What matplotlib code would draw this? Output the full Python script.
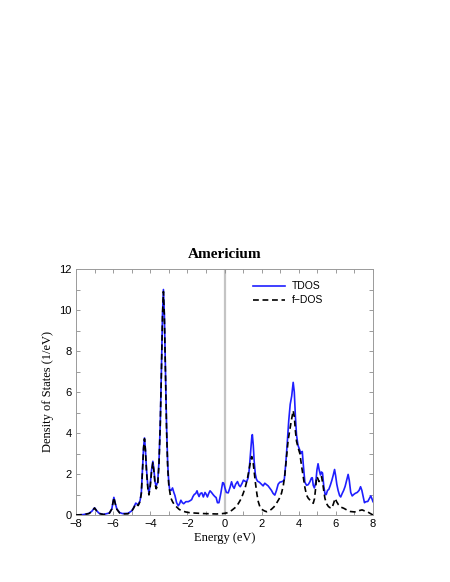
import numpy as np
import matplotlib
matplotlib.use("Agg")
import matplotlib.pyplot as plt
from matplotlib.ticker import MultipleLocator

# Energy grid and total DOS
tdos_energy = [
    -8.0, -7.6, -7.3, -7.15, -7.0, -6.88, -6.75, -6.5, -6.2, -6.07, -5.96, -5.88,
    -5.8, -5.65, -5.5, -5.2, -5.0, -4.9, -4.78, -4.65, -4.55, -4.48, -4.42, -4.36,
    -4.31, -4.26, -4.2, -4.13, -4.07, -4.0, -3.93, -3.86, -3.8, -3.74, -3.68, -3.6,
    -3.53, -3.46, -3.4, -3.34, -3.29, -3.24, -3.18, -3.12, -3.06, -3.0, -2.95, -2.87,
    -2.8, -2.73, -2.67, -2.58, -2.49, -2.42, -2.35, -2.27, -2.2, -2.08, -1.95, -1.85,
    -1.77, -1.7, -1.63, -1.55, -1.48, -1.42, -1.37, -1.3, -1.22, -1.14, -1.05, -0.98,
    -0.92, -0.85, -0.78, -0.7, -0.6, -0.52, -0.45, -0.38, -0.3, -0.2, -0.1, -0.04,
    0.03, 0.1, 0.2, 0.3, 0.38, 0.45, 0.52, 0.6, 0.7, 0.78, 0.85, 0.95,
    1.02, 1.1, 1.19, 1.27, 1.33, 1.4, 1.47, 1.5, 1.55, 1.6, 1.66, 1.72,
    1.78, 1.88, 1.99, 2.08, 2.17, 2.27, 2.35, 2.45, 2.53, 2.62, 2.71, 2.8,
    2.89, 2.98, 3.07, 3.15, 3.22, 3.3, 3.38, 3.46, 3.54, 3.62, 3.7, 3.76,
    3.82, 3.88, 3.96, 4.04, 4.12, 4.19, 4.25, 4.33, 4.42, 4.51, 4.6, 4.68,
    4.73, 4.78, 4.84, 4.92, 4.98, 5.04, 5.1, 5.17, 5.22, 5.28, 5.35, 5.42,
    5.48, 5.55, 5.62, 5.7, 5.78, 5.86, 5.93, 5.99, 6.05, 6.12, 6.2, 6.26,
    6.34, 6.42, 6.5, 6.58, 6.66, 6.72, 6.8, 6.88, 6.96, 7.05, 7.15, 7.25,
    7.33, 7.4, 7.47, 7.54, 7.62, 7.72, 7.8, 7.88, 7.94, 8.0,
]
tdos_values = [
    0.0, 0.02, 0.08, 0.18, 0.35, 0.2, 0.08, 0.03, 0.1, 0.3, 0.86, 0.55,
    0.3, 0.12, 0.07, 0.08, 0.2, 0.35, 0.58, 0.5, 0.7, 1.1, 2.2, 3.3,
    3.76, 3.2, 2.2, 1.4, 1.07, 1.5, 2.2, 2.62, 2.2, 1.6, 1.42, 1.6,
    2.6, 4.5, 7.0, 9.8, 11.0, 9.8, 7.0, 4.3, 2.5, 1.55, 1.22, 1.2,
    1.32, 1.1, 0.95, 0.6, 0.45, 0.55, 0.72, 0.6, 0.55, 0.65, 0.65, 0.7,
    0.75, 0.9, 1.0, 1.05, 1.18, 1.0, 0.9, 1.05, 1.08, 0.88, 1.1, 1.0,
    0.88, 1.05, 1.18, 1.1, 0.98, 0.9, 0.85, 0.6, 0.6, 1.05, 1.58, 1.55,
    1.3, 1.1, 1.08, 1.35, 1.62, 1.4, 1.3, 1.5, 1.63, 1.45, 1.38, 1.55,
    1.7, 1.65, 1.62, 1.8, 2.2, 3.0, 3.8, 3.92, 3.4, 2.6, 2.0, 1.75,
    1.65, 1.6, 1.5, 1.42, 1.55, 1.48, 1.42, 1.3, 1.2, 1.05, 0.97, 1.2,
    1.5, 1.6, 1.62, 1.65, 1.72, 2.5, 3.5, 4.6, 5.4, 5.8, 6.47, 6.0,
    4.8, 3.9, 3.4, 3.2, 3.0, 3.1, 2.4, 1.6, 1.45, 1.48, 1.62, 1.8,
    1.82, 1.45, 1.32, 1.6, 2.2, 2.5, 2.2, 1.95, 2.1, 2.05, 1.4, 1.0,
    1.0, 1.2, 1.25, 1.45, 1.68, 1.95, 2.22, 1.9, 1.5, 1.2, 0.95, 0.88,
    1.05, 1.2, 1.4, 1.7, 1.98, 1.7, 1.1, 0.93, 1.0, 1.06, 1.1, 1.2,
    1.38, 1.2, 0.9, 0.6, 0.65, 0.66, 0.8, 0.93, 0.8, 0.65,
]

# f-projected DOS
fdos_energy = [
    -8.0, -7.6, -7.3, -7.15, -7.0, -6.88, -6.75, -6.5, -6.2, -6.07, -5.96, -5.88,
    -5.8, -5.65, -5.5, -5.2, -5.0, -4.9, -4.78, -4.65, -4.55, -4.48, -4.42, -4.36,
    -4.31, -4.26, -4.2, -4.13, -4.07, -4.0, -3.93, -3.86, -3.8, -3.74, -3.68, -3.6,
    -3.53, -3.46, -3.4, -3.34, -3.29, -3.24, -3.18, -3.12, -3.06, -3.0, -2.9, -2.8,
    -2.7, -2.59, -2.45, -2.32, -2.1, -1.87, -1.5, -1.14, -0.8, -0.42, -0.1, 0.12,
    0.38, 0.6, 0.74, 0.9, 1.01, 1.12, 1.24, 1.34, 1.42, 1.47, 1.55, 1.61,
    1.67, 1.75, 1.82, 1.9, 2.0, 2.15, 2.27, 2.4, 2.53, 2.67, 2.8, 2.95,
    3.07, 3.17, 3.25, 3.34, 3.43, 3.52, 3.6, 3.7, 3.76, 3.82, 3.88, 3.96,
    4.06, 4.15, 4.24, 4.33, 4.42, 4.51, 4.6, 4.7, 4.78, 4.85, 4.92, 4.96,
    5.02, 5.09, 5.16, 5.23, 5.3, 5.36, 5.41, 5.5, 5.6, 5.7, 5.78, 5.87,
    5.96, 6.04, 6.14, 6.28, 6.42, 6.6, 6.78, 7.0, 7.14, 7.28, 7.41, 7.55,
    7.68, 7.84, 8.0,
]
fdos_values = [
    0.0, 0.02, 0.07, 0.17, 0.34, 0.19, 0.07, 0.02, 0.09, 0.29, 0.85, 0.53,
    0.28, 0.1, 0.05, 0.06, 0.18, 0.33, 0.55, 0.46, 0.66, 1.05, 2.15, 3.25,
    3.72, 3.15, 2.1, 1.3, 0.98, 1.4, 2.1, 2.55, 2.1, 1.5, 1.28, 1.45,
    2.45, 4.4, 6.9, 9.7, 10.9, 9.7, 6.8, 4.1, 2.3, 1.45, 0.85, 0.65,
    0.5, 0.4, 0.28, 0.21, 0.15, 0.11, 0.09, 0.07, 0.06, 0.05, 0.07, 0.1,
    0.22, 0.38, 0.55, 0.8, 1.06, 1.35, 1.8, 2.3, 2.7, 2.85, 2.5, 2.0,
    1.54, 1.0, 0.65, 0.42, 0.28, 0.2, 0.16, 0.2, 0.28, 0.4, 0.57, 0.8,
    1.06, 1.45, 1.95, 2.8, 3.66, 4.15, 4.6, 5.09, 4.8, 4.1, 3.6, 3.3,
    3.0, 2.4, 1.87, 1.35, 0.97, 0.82, 0.73, 0.62, 0.57, 0.8, 1.4, 1.87,
    1.8, 1.63, 1.75, 1.87, 1.5, 1.1, 0.81, 0.55, 0.41, 0.35, 0.33, 0.55,
    0.81, 0.65, 0.5, 0.38, 0.33, 0.24, 0.17, 0.15, 0.17, 0.22, 0.25, 0.2,
    0.17, 0.08, 0.0,
]

fig = plt.figure(figsize=(4.5, 5.82), dpi=100)
ax = fig.add_axes([76 / 450, 67 / 582, 297 / 450, 246 / 582])

ax.axvline(0, color='#c4c4c4', lw=1.6, zorder=1)
ax.plot(tdos_energy, tdos_values, color='#1f1fff', lw=1.2, label='TDOS', zorder=2)
ax.plot(fdos_energy, fdos_values, color='black', lw=1.2, ls=(0, (3.5, 2.2)),
        label='f\u2212DOS', zorder=3)

ax.set_xlim(-8, 8)
ax.set_ylim(0, 12)
ax.xaxis.set_major_locator(MultipleLocator(2))
ax.xaxis.set_minor_locator(MultipleLocator(1))
ax.yaxis.set_major_locator(MultipleLocator(2))
ax.yaxis.set_minor_locator(MultipleLocator(1))
ax.tick_params(which='both', direction='in', top=True, right=True,
               length=3, width=0.6, color='#8c8c8c')
ax.tick_params(which='major', labelsize=8, pad=3)
for lab in ax.get_xticklabels() + ax.get_yticklabels():
    lab.set_family('Liberation Sans')
for sp in ax.spines.values():
    sp.set_color('#9a9a9a')
    sp.set_linewidth(0.7)

ax.set_title('Americium', fontsize=11, fontweight='bold',
             family='Liberation Serif', pad=8)
ax.set_xlabel('Energy (eV)', fontsize=9, family='Liberation Serif', labelpad=2)
ax.set_ylabel('Density of States (1/eV)', fontsize=9, family='Liberation Serif', labelpad=4)

leg = ax.legend(loc='upper left', bbox_to_anchor=(0.597, 0.95), frameon=False,
                borderpad=0, borderaxespad=0, handlelength=3.0, handletextpad=0.7,
                labelspacing=0.4, prop={'family': 'Liberation Sans', 'size': 7.5})

fig.savefig('out.png', dpi=100)
